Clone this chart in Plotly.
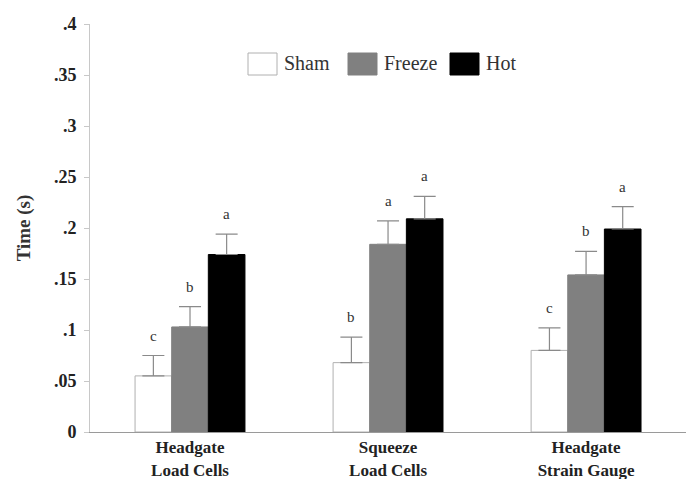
import plotly.graph_objects as go

categories = ["<b>Headgate<br>Load Cells</b>", "<b>Squeeze<br>Load Cells</b>", "<b>Headgate<br>Strain Gauge</b>"]
series_names = ["Sham", "Freeze", "Hot"]
sham = [0.055, 0.068, 0.080]
freeze = [0.103, 0.184, 0.154]
hot = [0.174, 0.209, 0.199]
sham_err = [0.020, 0.025, 0.022]
freeze_err = [0.020, 0.023, 0.023]
hot_err = [0.020, 0.022, 0.022]
sham_letters = ["c", "b", "c"]
freeze_letters = ["b", "a", "b"]
hot_letters = ["a", "a", "a"]
ytick_vals = [0, 0.05, 0.1, 0.15, 0.2, 0.25, 0.3, 0.35, 0.4]
ytick_text = ["0", ".05", ".1", ".15", ".2", ".25", ".3", ".35", ".4"]

values = [sham, freeze, hot]
errors = [sham_err, freeze_err, hot_err]
letters = [sham_letters, freeze_letters, hot_letters]
fills = ["#ffffff", "#808080", "#000000"]
lines = ["#b0b0b0", "#808080", "#000000"]
offsets = [-1, 0, 1]
bw = 0.185

fig = go.Figure()
xs = list(range(len(categories)))
for name, v, e, fc, lc in zip(series_names, values, errors, fills, lines):
    fig.add_trace(go.Bar(
        x=xs, y=v, name=name,
        marker=dict(color=fc, line=dict(color=lc, width=1)),
        error_y=dict(type="data", array=e, arrayminus=[0] * len(e), symmetric=False,
                     color="#8a8a8a", thickness=1.2, width=11),
        showlegend=False,
    ))

font_family = "Liberation Serif"
for k in range(3):
    for i in range(len(categories)):
        fig.add_annotation(
            x=xs[i] + offsets[k] * bw, y=values[k][i] + errors[k][i],
            text=letters[k][i], showarrow=False, yshift=20,
            font=dict(family=font_family, size=15, color="#333333"),
        )

# legend drawn manually (plot area is 604x408)
leg_x = [248, 348, 450]
for name, fc, lc, lx in zip(series_names, fills, lines, leg_x):
    fig.add_shape(type="rect", xref="paper", yref="paper",
                  x0=(lx - 90) / 604, x1=(lx + 29 - 90) / 604,
                  y0=(432 - 75) / 408, y1=(432 - 53) / 408,
                  fillcolor=fc, line=dict(color=lc, width=1))
    fig.add_annotation(xref="paper", yref="paper", x=(lx + 34 - 90) / 604,
                       y=(432 - 63) / 408, xanchor="left", yanchor="middle",
                       text=name, showarrow=False,
                       font=dict(family=font_family, size=20, color="#333333"))

fig.update_layout(
    width=686, height=471,
    margin=dict(l=82, r=0, t=16, b=47, autoexpand=False),
    paper_bgcolor="white", plot_bgcolor="white",
    barmode="group", bargap=0.445, bargroupgap=0,
    font=dict(family=font_family, color="#222222"),
)
fig.update_xaxes(
    range=[-0.505, 2.545], tickvals=xs, ticktext=categories, automargin=False,
    showline=True, linecolor="#9a9a9a", linewidth=1, ticks="",
    tickfont=dict(family=font_family, size=17, color="#222222"),
    showgrid=False, zeroline=False,
)
fig.update_yaxes(
    range=[0, 0.4], tickvals=ytick_vals, ticktext=["<b>" + t + "</b>" for t in ytick_text],
    automargin=False,
    showline=True, linecolor="#c8c8c8", linewidth=1, ticks="outside", ticklen=5,
    tickcolor="#c8c8c8", showgrid=False, zeroline=False, ticklabelstandoff=4,
    tickfont=dict(family=font_family, size=18, color="#222222"),
    title=dict(text="<b>Time (s)</b>", font=dict(family=font_family, size=19, color="#333333"), standoff=18),
)

fig.write_html("out.html")
